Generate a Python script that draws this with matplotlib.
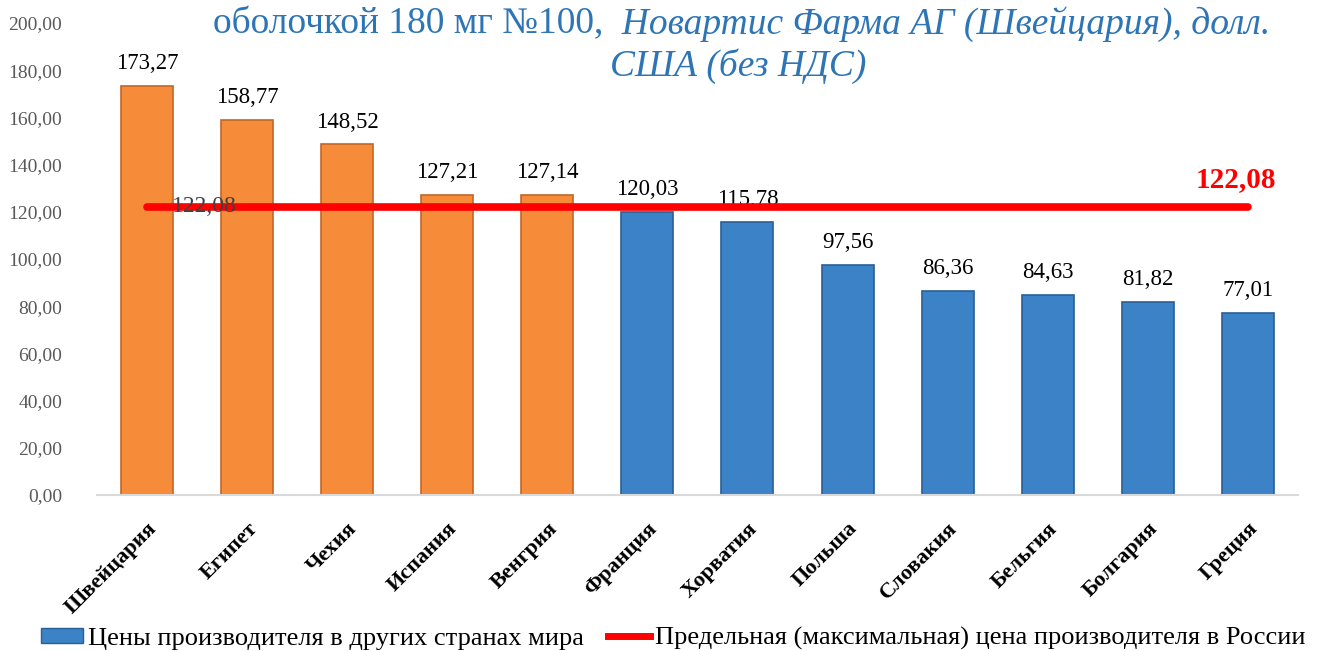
import matplotlib
matplotlib.use("Agg")
import matplotlib.pyplot as plt
import matplotlib.transforms as mtransforms
import numpy as np
from matplotlib.lines import Line2D
from matplotlib.patches import Patch

countries = ["Швейцария", "Египет", "Чехия", "Испания", "Венгрия", "Франция",
             "Хорватия", "Польша", "Словакия", "Бельгия", "Болгария", "Греция"]
prices = [173.27, 158.77, 148.52, 127.21, 127.14, 120.03,
          115.78, 97.56, 86.36, 84.63, 81.82, 77.01]
limit_price = 122.08
yticks = [0, 20, 40, 60, 80, 100, 120, 140, 160, 180, 200]

title_a = "оболочкой 180 мг №100,"
title_b = "  Новартис Фарма АГ (Швейцария), долл."
title_c = "США (без НДС)"
legend_bar = "Цены производителя в других странах мира"
legend_line = "Предельная (максимальная) цена производителя в России"

def fmt(v):
    return f"{v:.2f}".replace(".", ",")

plt.rcParams['font.family'] = ['Liberation Serif', 'DejaVu Serif']

fig = plt.figure(figsize=(13.23, 6.51), dpi=100)
ax = fig.add_axes([0.0733, 0.2396, 0.9077, 0.7251])

x = np.arange(len(countries))
orange = "#F68B3A"
blue = "#3C82C6"
colors = [orange if p > limit_price else blue for p in prices]
edges = ["#C0662A" if p > limit_price else "#2A5F95" for p in prices]
ax.bar(x, prices, width=0.52, color=colors, edgecolor=edges, linewidth=1.2, zorder=2)

for xi, p in zip(x, prices):
    ax.text(xi, p + 5, fmt(p), ha="center", va="bottom", fontsize=16.5, color="black")

limit = [limit_price] * len(countries)
ax.plot(x, limit, color="#FF0000", linewidth=5.5, solid_capstyle="round", zorder=3)
ax.text(x[0] + 0.25, limit_price, fmt(limit_price), ha="left", va="center",
        fontsize=17, color="#404040", zorder=4)
ax.text(x[-1] - 0.12, limit_price + 6, fmt(limit_price), ha="center", va="bottom",
        fontsize=21, fontweight="bold", color="#FF0000", zorder=4)

ax.set_xlim(-0.5, len(countries) - 0.5)
ax.set_ylim(0, 200)
ax.set_yticks(yticks)
ax.set_yticklabels([fmt(v) for v in yticks], fontsize=14, color="#595959")
ax.set_xticks(x)
ax.set_xticklabels(countries, rotation=45, ha="right", rotation_mode="anchor",
                   fontsize=16, fontweight="bold")
offset = mtransforms.ScaledTranslation(-7 / 100, 0, fig.dpi_scale_trans)
for lbl in ax.get_xticklabels():
    lbl.set_transform(lbl.get_transform() + offset)
ax.tick_params(axis="both", length=0)
ax.tick_params(axis="x", pad=17)
ax.tick_params(axis="y", pad=25)
for s in ["top", "right", "left"]:
    ax.spines[s].set_visible(False)
ax.spines["bottom"].set_color("#D9D9D9")
ax.spines["bottom"].set_linewidth(1.5)

t1 = fig.text(213 / 1323, 1 - 24 / 651, title_a, ha="left", va="center",
              fontsize=27, color="#2E75B6")
ax.annotate(title_b, xy=(1, 0.5), xycoords=t1, ha="left", va="center",
            fontsize=27, color="#2E75B6", style="italic", annotation_clip=False)
fig.text(738 / 1323, 1 - 66 / 651, title_c, ha="center", va="center",
         fontsize=27, color="#2E75B6", style="italic")

handles = [Patch(facecolor=blue, edgecolor="#2A5F95"),
           Line2D([0], [0], color="#FF0000", linewidth=5)]
fig.legend(handles, [legend_bar, legend_line], loc="lower center",
           bbox_to_anchor=(0.509, -0.035), ncol=2, frameon=False, fontsize=19,
           handlelength=1.6, handleheight=0.5, handletextpad=0.2, columnspacing=0.9)

fig.savefig("out.png", dpi=100)
